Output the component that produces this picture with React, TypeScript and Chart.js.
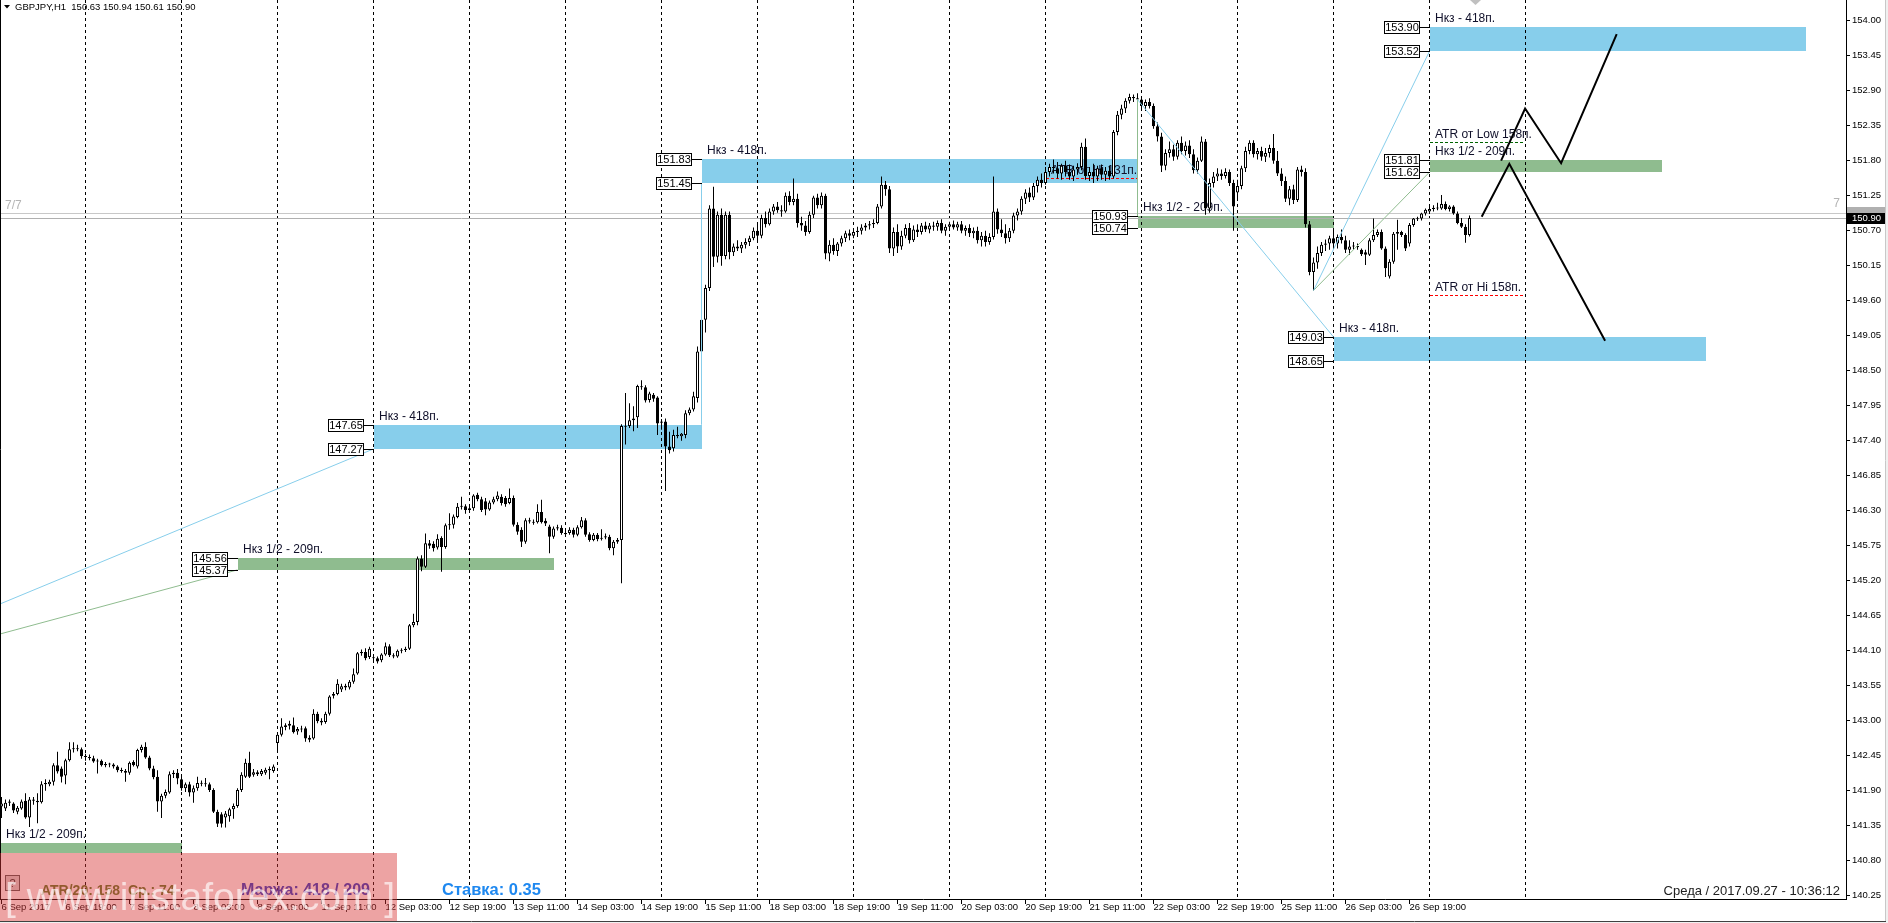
import React, { useEffect, useRef } from 'react';
import { Chart, registerables } from 'chart.js';

Chart.register(...registerables);

const FONT = "'Liberation Sans', Arial, Helvetica, sans-serif";
const BLUE = '#87CEEB';
const GREEN = '#8FBC8F';
const TEXT = '#10102a';

// ---- GBPJPY H1 candles, [open, high, low, close], one array per trading day ----
const sep06 = [
  [141.65,141.80,141.47,141.70],[141.62,141.76,141.58,141.71],[141.71,141.76,141.66,141.73],[141.70,141.72,141.55,141.59],
  [141.57,141.66,141.53,141.63],[141.62,141.76,141.60,141.73],[141.74,141.86,141.46,141.48],[141.48,141.80,141.33,141.76],
  [141.76,141.80,141.68,141.74],[141.74,141.86,141.39,141.72],[141.72,142.05,141.70,142.00],[142.00,142.08,141.90,142.02],
  [142.00,142.07,141.97,142.04],[142.04,142.33,141.98,142.30],[142.30,142.51,142.17,142.20],[142.25,142.28,142.03,142.12],
  [142.14,142.40,142.00,142.38],[142.38,142.66,142.36,142.55],[142.55,142.66,142.50,142.56],[142.56,142.62,142.52,142.55],
  [142.55,142.58,142.40,142.44],
];
const sep07 = [
  [142.44,142.48,142.37,142.43],[142.43,142.47,142.38,142.41],[142.41,142.45,142.34,142.36],[142.36,142.40,142.17,142.37],
  [142.37,142.39,142.28,142.30],[142.30,142.35,142.27,142.32],[142.32,142.34,142.27,142.31],[142.31,142.33,142.25,142.28],
  [142.28,142.30,142.19,142.22],[142.22,142.26,142.18,142.21],[142.21,142.24,142.04,142.18],[142.18,142.36,142.15,142.34],
  [142.35,142.38,142.28,142.30],[142.28,142.56,142.25,142.54],[142.54,142.62,142.50,142.59],[142.59,142.66,142.40,142.42],
  [142.42,142.45,142.22,142.25],[142.25,142.29,142.08,142.11],[142.12,142.22,141.57,141.73],[141.73,141.85,141.47,141.82],
  [141.82,141.92,141.78,141.88],[141.87,142.20,141.85,142.16],[142.16,142.22,142.10,142.18],[142.18,142.24,142.00,142.09],
];
const sep08 = [
  [142.08,142.12,141.90,141.94],[141.94,142.03,141.88,142.00],[142.00,142.04,141.81,141.87],[141.87,141.98,141.71,141.94],
  [141.94,142.12,141.90,142.02],[142.02,142.06,141.97,142.01],[142.01,142.10,141.96,142.00],[142.00,142.03,141.88,141.91],
  [141.91,141.94,141.55,141.57],[141.57,141.60,141.33,141.38],[141.53,141.56,141.32,141.38],[141.48,141.58,141.32,141.54],
  [141.50,141.63,141.41,141.61],[141.61,141.70,141.46,141.66],[141.66,141.94,141.63,141.91],[141.91,142.19,141.88,142.15],
  [142.12,142.40,142.10,142.34],[142.34,142.51,142.10,142.12],[142.15,142.24,142.12,142.19],[142.19,142.22,142.13,142.16],
  [142.16,142.24,142.13,142.21],[142.18,142.26,142.15,142.23],[142.22,142.28,142.08,142.24],[142.21,142.31,142.18,142.28],
];
const sep11 = [
  [142.65,142.80,142.53,142.78],[142.78,143.04,142.75,142.91],[142.90,142.96,142.85,142.93],[142.92,143.00,142.86,142.95],
  [142.93,143.05,142.80,142.82],[142.83,142.90,142.78,142.87],[142.87,142.92,142.82,142.86],[142.88,142.91,142.67,142.72],
  [142.73,142.77,142.66,142.70],[142.72,143.18,142.70,143.11],[143.11,143.14,142.96,142.99],[143.00,143.04,142.93,142.97],
  [142.98,143.14,142.95,143.11],[143.11,143.40,143.08,143.38],[143.39,143.45,143.35,143.42],[143.42,143.65,143.40,143.58],
  [143.49,143.58,143.45,143.54],[143.55,143.58,143.48,143.52],[143.52,143.64,143.49,143.61],[143.61,143.82,143.58,143.73],
  [143.74,144.08,143.72,144.06],[144.06,144.12,144.02,144.08],[144.08,144.14,143.95,143.98],[144.00,144.16,143.97,144.13],
];
const sep12 = [
  [143.99,144.03,143.95,143.98],[143.98,144.01,143.90,143.93],[143.95,144.06,143.92,144.04],[144.04,144.23,144.02,144.17],
  [144.17,144.20,144.00,144.03],[144.03,144.06,143.98,144.01],[144.01,144.12,143.99,144.10],[144.10,144.14,144.06,144.11],
  [144.11,144.16,144.08,144.13],[144.13,144.52,144.11,144.50],[144.50,144.68,144.47,144.55],[144.55,145.58,144.50,145.55],
  [145.55,145.60,145.35,145.42],[145.42,145.94,145.40,145.79],[145.79,145.84,145.70,145.75],[145.78,145.82,145.66,145.71],
  [145.72,145.93,145.69,145.86],[145.87,145.90,145.34,145.73],[145.73,146.10,145.70,146.07],[146.07,146.26,146.00,146.08],
  [146.08,146.24,146.02,146.21],[146.20,146.42,146.18,146.36],[146.36,146.52,146.32,146.37],[146.37,146.40,146.25,146.31],
];
const sep13 = [
  [146.31,146.37,146.27,146.34],[146.34,146.56,146.30,146.54],[146.55,146.58,146.45,146.48],[146.48,146.52,146.28,146.31],
  [146.45,146.50,146.23,146.32],[146.32,146.46,146.30,146.43],[146.43,146.52,146.40,146.48],[146.48,146.60,146.45,146.54],
  [146.52,146.56,146.38,146.42],[146.50,146.53,146.36,146.40],[146.42,146.65,146.40,146.50],[146.50,146.54,146.05,146.08],
  [146.08,146.12,145.92,145.97],[146.00,146.04,145.73,145.81],[145.81,146.18,145.78,146.15],[146.15,146.19,146.10,146.13],
  [146.12,146.16,146.08,146.11],[146.12,146.40,146.10,146.28],[146.28,146.47,146.10,146.12],[146.14,146.18,146.06,146.10],
  [146.05,146.08,145.63,145.89],[145.89,146.05,145.86,146.02],[146.02,146.08,145.99,146.04],[146.03,146.07,145.92,145.95],
];
const sep14 = [
  [145.95,145.99,145.90,145.93],[145.95,146.04,145.92,146.00],[146.00,146.03,145.88,145.92],[145.92,146.07,145.90,146.04],
  [146.04,146.20,146.02,146.15],[146.15,146.18,145.89,145.92],[145.93,145.96,145.81,145.84],[145.84,145.95,145.82,145.92],
  [145.92,145.95,145.82,145.85],[145.86,146.01,145.83,145.87],[145.88,145.94,145.85,145.90],[145.89,145.92,145.68,145.71],
  [145.71,145.84,145.60,145.81],[145.81,145.87,145.78,145.84],[145.84,147.66,145.16,147.63],[147.63,148.15,147.34,147.62],
  [147.63,147.99,147.60,147.72],[147.72,147.94,147.55,147.75],[147.77,148.28,147.60,148.26],[148.25,148.35,148.20,148.24],
  [148.24,148.27,148.00,148.03],[148.04,148.17,148.00,148.14],[148.12,148.15,148.01,148.06],[148.08,148.10,147.49,147.67],
];
const sep15 = [
  [147.68,147.74,147.57,147.70],[147.70,147.75,146.61,147.31],[147.31,147.54,147.20,147.25],[147.28,147.57,147.23,147.49],
  [147.49,147.62,147.44,147.47],[147.47,147.52,147.40,147.51],[147.49,147.88,147.44,147.83],[147.83,147.92,147.80,147.89],
  [147.89,148.17,147.86,148.10],[148.07,148.88,148.00,148.80],[148.80,149.45,148.70,149.30],[149.30,149.85,149.10,149.80],
  [149.80,151.10,149.75,151.05],[151.05,151.39,150.13,150.29],[150.29,151.00,150.20,150.95],[150.95,151.05,150.15,150.30],
  [150.30,151.00,150.25,150.95],[150.95,151.00,150.25,150.36],[150.36,150.50,150.30,150.45],[150.45,150.55,150.38,150.42],
  [150.42,150.52,150.35,150.48],[150.48,150.58,150.42,150.52],[150.52,150.62,150.46,150.58],[150.58,150.75,150.55,150.70],
];
const sep18 = [
  [150.70,150.80,150.55,150.62],[150.62,150.95,150.58,150.90],[150.90,151.00,150.75,150.80],[150.80,151.05,150.78,151.00],
  [151.00,151.12,150.95,151.08],[151.08,151.15,150.98,151.02],[151.02,151.10,150.92,151.00],[151.00,151.30,150.98,151.25],
  [151.25,151.32,151.10,151.15],[151.15,151.52,151.10,151.20],[151.20,151.28,150.75,150.82],[150.82,150.92,150.70,150.78],
  [150.78,150.85,150.62,150.68],[150.68,151.00,150.65,150.95],[150.95,151.25,150.90,151.22],[151.22,151.28,151.05,151.10],
  [151.10,151.30,151.05,151.25],[151.25,151.28,150.25,150.34],[150.34,150.55,150.22,150.48],[150.48,150.58,150.32,150.38],
  [150.38,150.52,150.30,150.50],[150.50,150.62,150.45,150.58],[150.58,150.70,150.52,150.66],[150.66,150.72,150.55,150.62],
];
const sep19 = [
  [150.62,150.72,150.58,150.68],[150.68,150.76,150.60,150.70],[150.70,150.80,150.64,150.75],[150.75,150.82,150.70,150.78],
  [150.78,150.85,150.72,150.80],[150.80,150.88,150.74,150.82],[150.82,151.12,150.80,151.08],[151.08,151.55,151.05,151.42],
  [151.42,151.48,151.25,151.35],[151.35,151.40,150.35,150.42],[150.42,150.75,150.30,150.68],[150.68,150.80,150.35,150.45],
  [150.45,150.70,150.40,150.62],[150.62,150.80,150.58,150.74],[150.74,150.82,150.50,150.55],[150.55,150.78,150.52,150.72],
  [150.72,150.80,150.60,150.68],[150.68,150.82,150.64,150.78],[150.78,150.84,150.68,150.72],[150.72,150.82,150.66,150.78],
  [150.78,150.84,150.70,150.76],[150.76,150.86,150.70,150.82],[150.82,150.88,150.66,150.70],[150.70,150.80,150.62,150.76],
];
const sep20 = [
  [150.76,150.84,150.70,150.80],[150.80,150.86,150.72,150.75],[150.75,150.84,150.70,150.80],[150.80,150.85,150.66,150.70],
  [150.70,150.78,150.62,150.74],[150.74,150.80,150.60,150.66],[150.66,150.75,150.58,150.70],[150.70,150.76,150.50,150.55],
  [150.55,150.68,150.45,150.62],[150.62,150.70,150.45,150.52],[150.52,150.66,150.48,150.60],[150.60,151.55,150.56,151.00],
  [151.00,151.05,150.65,150.72],[150.72,150.88,150.60,150.66],[150.66,150.80,150.50,150.58],[150.58,150.74,150.52,150.70],
  [150.70,150.98,150.66,150.94],[150.94,151.05,150.86,151.00],[151.00,151.24,150.95,151.20],[151.20,151.35,151.12,151.30],
  [151.30,151.38,151.15,151.22],[151.22,151.45,151.18,151.40],[151.40,151.55,151.30,151.50],[151.50,151.60,151.38,151.45],
];
const sep21 = [
  [151.45,151.70,151.42,151.62],[151.62,151.75,151.55,151.70],[151.70,151.82,151.60,151.68],[151.68,151.78,151.52,151.60],
  [151.60,151.75,151.50,151.72],[151.72,151.80,151.55,151.62],[151.62,151.74,151.50,151.55],[151.55,151.72,151.48,151.66],
  [151.66,151.76,151.58,151.70],[151.70,152.08,151.65,152.02],[152.02,152.15,151.50,151.56],[151.56,151.70,151.48,151.62],
  [151.62,151.75,151.45,151.55],[151.55,151.72,151.48,151.68],[151.68,151.74,151.50,151.58],[151.58,151.70,151.48,151.64],
  [151.64,151.72,151.50,151.55],[151.55,152.28,151.52,152.25],[152.25,152.58,152.20,152.52],[152.52,152.68,152.45,152.62],
  [152.62,152.78,152.55,152.74],[152.74,152.85,152.70,152.80],[152.80,152.84,152.72,152.78],[152.78,152.86,152.70,152.76],
];
const sep22 = [
  [152.76,152.80,152.60,152.66],[152.66,152.76,152.58,152.72],[152.72,152.78,152.62,152.66],[152.66,152.70,152.30,152.34],
  [152.34,152.40,152.10,152.18],[152.18,152.24,151.62,151.72],[151.72,151.98,151.65,151.92],[151.92,152.10,151.85,151.98],
  [151.98,152.05,151.80,151.86],[151.86,152.12,151.82,152.08],[152.08,152.18,151.90,151.95],[151.95,152.10,151.88,152.04],
  [152.04,152.12,151.84,151.90],[151.90,151.98,151.60,151.65],[151.65,151.85,151.60,151.80],[151.80,152.18,151.78,152.10],
  [152.10,152.14,150.95,151.05],[151.05,151.52,150.98,151.45],[151.45,151.62,151.38,151.55],[151.55,151.68,151.48,151.60],
  [151.60,151.66,151.50,151.56],[151.56,151.68,151.52,151.62],[151.62,151.66,151.40,151.45],[151.45,151.50,150.70,151.08],
];
const sep25 = [
  [151.30,151.50,151.20,151.40],[151.40,151.72,151.35,151.68],[151.68,152.02,151.62,151.95],[151.95,152.12,151.90,152.08],
  [152.08,152.12,151.85,151.90],[151.90,152.00,151.82,151.95],[151.95,152.02,151.80,151.86],[151.86,152.00,151.78,151.92],
  [151.92,152.05,151.85,152.00],[152.00,152.22,151.75,151.80],[151.80,151.95,151.56,151.60],[151.60,151.68,151.40,151.48],
  [151.48,151.55,151.15,151.20],[151.20,151.40,151.10,151.35],[151.35,151.42,151.12,151.18],[151.18,151.70,151.15,151.66],
  [151.66,151.72,151.55,151.62],[151.62,151.68,150.75,150.80],[150.80,150.85,150.00,150.05],[150.05,150.28,149.76,150.20],
  [150.20,150.45,150.10,150.35],[150.35,150.52,150.30,150.48],[150.48,150.56,150.38,150.50],[150.50,150.62,150.40,150.58],
];
const sep26 = [
  [150.58,150.70,150.45,150.50],[150.50,150.64,150.42,150.60],[150.60,150.72,150.50,150.55],[150.55,150.62,150.35,150.40],
  [150.40,150.55,150.32,150.45],[150.45,150.52,150.40,150.46],[150.46,150.50,150.40,150.44],[150.40,150.42,150.30,150.33],
  [150.36,150.40,150.16,150.32],[150.32,150.58,150.30,150.55],[150.55,150.89,150.52,150.63],[150.63,150.72,150.60,150.68],
  [150.68,150.72,150.40,150.42],[150.42,150.45,149.97,150.11],[149.98,150.25,149.95,150.21],[150.21,150.68,150.18,150.65],
  [150.65,150.87,150.40,150.68],[150.68,150.70,150.60,150.63],[150.63,150.66,150.38,150.42],[150.50,150.82,150.45,150.79],
  [150.79,150.90,150.76,150.89],[150.89,150.92,150.85,150.88],[150.89,150.98,150.86,150.97],[150.97,151.05,150.94,151.03],
];
const sep27 = [
  [151.00,151.08,150.96,151.04],[151.04,151.10,151.00,151.06],[151.06,151.14,151.02,151.05],[151.05,151.26,151.03,151.12],
  [151.12,151.16,151.02,151.04],[151.04,151.10,151.00,151.08],[151.08,151.10,150.95,150.97],[150.97,151.00,150.80,150.82],
  [150.82,150.90,150.74,150.76],[150.76,150.80,150.51,150.63],[150.63,150.94,150.61,150.90],
];

const candles = [...sep06, ...sep07, ...sep08, ...sep11, ...sep12, ...sep13, ...sep14, ...sep15,
  ...sep18, ...sep19, ...sep20, ...sep21, ...sep22, ...sep25, ...sep26, ...sep27];
const opens = candles.map(c => c[0]);
const highs = candles.map(c => c[1]);
const lows = candles.map(c => c[2]);
const closes = candles.map(c => c[3]);

// ---- axes ----
const yTicks = [140.25, 140.80, 141.35, 141.90, 142.45, 143.00, 143.55, 144.10, 144.65, 145.20, 145.75, 146.30,
  146.85, 147.40, 147.95, 148.50, 149.05, 149.60, 150.15, 150.70, 151.25, 151.80, 152.35, 152.90, 153.45, 154.00];
const xTickIdx = [0, 16, 32, 48, 64, 80, 96, 112, 128, 144, 160, 176, 192, 208, 224, 240, 256, 272, 288, 304, 320, 336, 352];
const xTickLabels = ['6 Sep 2017', '6 Sep 19:00', '7 Sep 11:00', '8 Sep 03:00', '8 Sep 19:00', '11 Sep 11:00',
  '12 Sep 03:00', '12 Sep 19:00', '13 Sep 11:00', '14 Sep 03:00', '14 Sep 19:00', '15 Sep 11:00', '18 Sep 03:00',
  '18 Sep 19:00', '19 Sep 11:00', '20 Sep 03:00', '20 Sep 19:00', '21 Sep 11:00', '22 Sep 03:00', '22 Sep 19:00',
  '25 Sep 11:00', '26 Sep 03:00', '26 Sep 19:00'];
const separatorIdx = [21, 45, 69, 93, 117, 141, 165, 189, 213, 237, 261, 285, 309, 333, 357, 381];
const X_MIN = -0.375, X_MAX = 461.125;
const Y_MIN = 140.198, Y_MAX = 154.3246;

// ---- zones (rectangles) ----
const zoneStart = [93, 59, 175, 284, 333, 357, 357, -0.1];
const zoneEnd = [175, 138, 284, 333, 426, 451, 415, 45];
const zoneLow = [147.27, 145.37, 151.45, 150.74, 148.65, 153.52, 151.62, 140.92];
const zoneHigh = [147.65, 145.56, 151.83, 150.93, 149.03, 153.90, 151.81, 141.08];
const zoneIsFull = [true, false, true, false, true, true, false, false];
const zoneText = ['Нкз - 418п.', 'Нкз 1/2 - 209п.', 'Нкз - 418п.', 'Нкз 1/2 - 209п.', 'Нкз - 418п.', 'Нкз - 418п.', 'Нкз 1/2 - 209п.', 'Нкз 1/2 - 209п.'];
const zoneBoxes = [true, true, true, true, true, true, true, false];

// ---- fibo helper lines ----
const fibFromIdx = [-0.375, -0.375, 175, 284, 284, 328, 328];
const fibFromPrice = [144.834, 144.362, 147.65, 152.76, 152.76, 149.76, 149.76];
const fibToIdx = [93, 59, 175, 333, 284, 357, 357];
const fibToPrice = [147.27, 145.37, 151.45, 149.03, 150.93, 153.52, 151.62];
const fibIsBlue = [true, false, true, true, false, true, false];

// ---- ATR levels ----
const atrStart = [261, 357, 357];
const atrEnd = [284, 380.3, 380.3];
const atrPrice = [151.52, 152.10, 149.69];
const atrColor = ['#ff0000', '#006400', '#ff0000'];
const atrText = ['ATR от Hi 131п.', 'ATR от Low 158п.', 'ATR от Hi 158п.'];

// ---- projected zig-zags ----
const zzAIdx = [370.05, 376.95, 400.9];
const zzAPrice = [150.92, 151.75, 148.97];
const zzBIdx = [374.9, 380.9, 389.9, 403.8];
const zzBPrice = [151.80, 152.62, 151.76, 153.79];

const bidPrice = 150.90;
const askPrice = 150.97;

const overlayPlugin = {
  id: 'mtOverlay',
  beforeDatasetsDraw(chart: any) {
    const { ctx, chartArea: a } = chart;
    const X = (v: number) => chart.scales.x.getPixelForValue(v);
    const Y = (v: number) => chart.scales.y.getPixelForValue(v);
    ctx.save();
    ctx.beginPath();
    ctx.rect(a.left, a.top, a.right - a.left, a.bottom - a.top);
    ctx.clip();
    zoneStart.forEach((s, k) => {
      const x0 = Math.round(X(s)), x1 = Math.round(X(zoneEnd[k]));
      const y0 = Math.round(Y(zoneHigh[k])), y1 = Math.round(Y(zoneLow[k]));
      ctx.fillStyle = zoneIsFull[k] ? BLUE : GREEN;
      ctx.fillRect(x0, y0, x1 - x0, y1 - y0);
    });
    ctx.strokeStyle = '#000';
    ctx.lineWidth = 1;
    ctx.setLineDash([3, 3]);
    separatorIdx.forEach(s => {
      const px = Math.floor(X(s)) + 0.5;
      ctx.beginPath();
      ctx.moveTo(px, a.top);
      ctx.lineTo(px, a.bottom);
      ctx.stroke();
    });
    ctx.setLineDash([3, 2]);
    atrStart.forEach((s, k) => {
      const py = Math.round(Y(atrPrice[k])) + 0.5;
      ctx.strokeStyle = atrColor[k];
      ctx.beginPath();
      ctx.moveTo(Math.round(X(s)), py);
      ctx.lineTo(Math.round(X(atrEnd[k])), py);
      ctx.stroke();
    });
    ctx.setLineDash([]);
    ctx.font = `12px ${FONT}`;
    ctx.fillStyle = TEXT;
    ctx.textAlign = 'left';
    ctx.textBaseline = 'alphabetic';
    zoneStart.forEach((s, k) => {
      ctx.fillText(zoneText[k], Math.round(X(s)) + 5, Math.round(Y(zoneHigh[k])) - 5);
    });
    atrStart.forEach((s, k) => {
      ctx.fillText(atrText[k], Math.round(X(s)) + 5, Math.round(Y(atrPrice[k])) - 4);
    });
    [askPrice, bidPrice].forEach((p, k) => {
      const py = Math.round(Y(p)) + 0.5;
      ctx.strokeStyle = k === 0 ? '#c8c8c8' : '#b0b0b0';
      ctx.beginPath();
      ctx.moveTo(a.left, py);
      ctx.lineTo(a.right, py);
      ctx.stroke();
    });
    ctx.fillStyle = '#b4b4b4';
    ctx.font = `12px ${FONT}`;
    ctx.fillText('7/7', 5, Math.round(Y(askPrice)) - 4);
    ctx.textAlign = 'right';
    ctx.fillText('7', a.right - 6, Math.round(Y(askPrice)) - 6);
    ctx.restore();
  },
  afterDatasetsDraw(chart: any) {
    const { ctx } = chart;
    const X = (v: number) => chart.scales.x.getPixelForValue(v);
    const Y = (v: number) => chart.scales.y.getPixelForValue(v);
    ctx.save();
    ctx.lineWidth = 1;
    ctx.strokeStyle = '#000';
    ctx.font = `11px ${FONT}`;
    ctx.textAlign = 'center';
    ctx.textBaseline = 'middle';
    zoneStart.forEach((s, k) => {
      if (!zoneBoxes[k]) return;
      const x0 = Math.round(X(s));
      [zoneHigh[k], zoneLow[k]].forEach(p => {
        const py = Math.round(Y(p)) + 0.5;
        const bx1 = x0 - 10, bx0 = bx1 - 36;
        ctx.beginPath();
        ctx.moveTo(bx1, py);
        ctx.lineTo(x0, py);
        ctx.stroke();
        ctx.fillStyle = '#fff';
        ctx.fillRect(bx0, py - 6, 36, 12);
        ctx.strokeRect(bx0 + 0.5, py - 6, 35, 12);
        ctx.fillStyle = '#000';
        ctx.fillText(p.toFixed(2), bx0 + 18, py + 0.5);
      });
    });
    ctx.restore();
  },
  afterDraw(chart: any) {
    const { ctx, chartArea: a } = chart;
    const Y = (v: number) => chart.scales.y.getPixelForValue(v);
    ctx.save();
    ctx.strokeStyle = '#000';
    ctx.lineWidth = 1;
    ctx.beginPath();
    ctx.moveTo(0.5, 0);
    ctx.lineTo(0.5, a.bottom);
    ctx.stroke();
    const ya = Math.round(Y(askPrice));
    ctx.fillStyle = '#b0b0b0';
    ctx.fillRect(a.right + 1, ya - 6, 38, 11);
    const yb = Math.round(Y(bidPrice));
    ctx.fillStyle = '#000';
    ctx.fillRect(a.right + 1, yb - 5, 38, 11);
    ctx.fillStyle = '#fff';
    ctx.font = `9.5px ${FONT}`;
    ctx.textAlign = 'left';
    ctx.textBaseline = 'middle';
    ctx.fillText(bidPrice.toFixed(2), a.right + 6, yb + 0.5);
    // header
    ctx.fillStyle = '#000';
    ctx.beginPath();
    ctx.moveTo(4, 5);
    ctx.lineTo(10, 5);
    ctx.lineTo(7, 8.5);
    ctx.closePath();
    ctx.fill();
    ctx.textBaseline = 'alphabetic';
    ctx.font = `9.5px ${FONT}`;
    ctx.fillText('GBPJPY,H1  150.63 150.94 150.61 150.90', 15, 10);
    ctx.fillStyle = '#c0c0c0';
    ctx.beginPath();
    ctx.moveTo(1470, 0);
    ctx.lineTo(1481, 0);
    ctx.lineTo(1475.5, 5);
    ctx.closePath();
    ctx.fill();
    // info panel
    ctx.fillStyle = '#d8d8d8';
    ctx.fillRect(5, 875, 15, 16);
    ctx.strokeStyle = '#555';
    ctx.strokeRect(5.5, 875.5, 14, 15);
    ctx.fillStyle = '#333';
    ctx.font = `11px ${FONT}`;
    ctx.textAlign = 'center';
    ctx.fillText('?', 12.5, 887);
    ctx.textAlign = 'left';
    ctx.font = `bold 14px ${FONT}`;
    ctx.fillStyle = '#5a7a2a';
    ctx.fillText('ATR/20: 158  Ср.: 74', 41, 895);
    ctx.font = `bold 16px ${FONT}`;
    ctx.fillStyle = '#2a3cc8';
    ctx.fillText('Маржа: 418 / 209', 241, 895);
    ctx.font = `bold 16.5px ${FONT}`;
    ctx.fillStyle = '#1e88f0';
    ctx.fillText('Ставка: 0.35', 442, 895);
    // watermark
    ctx.fillStyle = 'rgba(215, 50, 50, 0.45)';
    ctx.fillRect(0, 853, 397, 70);
    ctx.fillStyle = 'rgba(255, 255, 255, 0.65)';
    ctx.font = `39px ${FONT}`;
    ctx.fillText('[ www.instaforex.com ]', 5, 910);
    // date/time stamp
    ctx.fillStyle = '#202020';
    ctx.font = `13px ${FONT}`;
    ctx.textAlign = 'right';
    ctx.fillText('Среда / 2017.09.27 - 10:36:12', 1840, 895);
    // window frame
    ctx.fillStyle = '#f0f0f0';
    ctx.fillRect(0, 922, 1888, 1);
    ctx.fillRect(1886, 0, 2, 923);
    ctx.strokeStyle = '#404040';
    ctx.beginPath();
    ctx.moveTo(0, 921.5);
    ctx.lineTo(1886, 921.5);
    ctx.stroke();
    ctx.strokeStyle = '#c8c8c8';
    ctx.beginPath();
    ctx.moveTo(1885.5, 0);
    ctx.lineTo(1885.5, 921);
    ctx.stroke();
    ctx.restore();
  },
};

export default function App() {
  const ref = useRef<HTMLCanvasElement>(null);
  useEffect(() => {
    document.body.style.margin = '0';
    document.body.style.overflow = 'hidden';
    const canvas = ref.current;
    if (!canvas) return;
    const isBull = (i: number) => closes[i] > opens[i];
    const lineDs = (idx: number[], price: number[], color: string, width: number) => ({
      type: 'line' as const,
      data: idx.map((v, k) => ({ x: v, y: price[k] })),
      borderColor: color,
      borderWidth: width,
      pointRadius: 0,
      fill: false,
      tension: 0,
      order: -1,
    });
    const fibSets = fibFromIdx.map((f, k) =>
      lineDs([f, fibToIdx[k]], [fibFromPrice[k], fibToPrice[k]], fibIsBlue[k] ? BLUE : GREEN, 1));
    const chart = new Chart(canvas, {
      type: 'bar',
      data: {
        datasets: [
          {
            type: 'bar',
            data: candles.map((_, i) => ({ x: i, y: [opens[i], closes[i]] })) as any,
            backgroundColor: (c: any) => (isBull(c.dataIndex) ? '#ffffff' : '#000000'),
            borderColor: '#000',
            borderWidth: 1,
            borderSkipped: false,
            barThickness: 3,
            minBarLength: 1,
            grouped: false,
            inflateAmount: 0,
            order: 0,
          } as any,
          {
            type: 'bar',
            data: candles.map((_, i) => ({ x: i, y: [lows[i], highs[i]] })) as any,
            backgroundColor: '#000',
            borderWidth: 0,
            barThickness: 1,
            minBarLength: 1,
            grouped: false,
            inflateAmount: 0,
            order: 1,
          } as any,
          ...fibSets,
          lineDs(zzAIdx, zzAPrice, '#000', 2),
          lineDs(zzBIdx, zzBPrice, '#000', 2),
        ] as any,
      },
      options: {
        responsive: false,
        animation: false,
        devicePixelRatio: 1,
        layout: { padding: 0 },
        plugins: { legend: { display: false }, tooltip: { enabled: false } },
        scales: {
          x: {
            type: 'linear',
            position: 'bottom',
            min: X_MIN,
            max: X_MAX,
            offset: false,
            grid: { display: true, drawOnChartArea: false, drawTicks: true, tickLength: 5, color: '#000', offset: false },
            border: { display: true, color: '#000', width: 1 },
            ticks: {
              autoSkip: false,
              maxRotation: 0,
              minRotation: 0,
              align: 'start',
              padding: -2,
              color: '#000',
              font: { family: FONT, size: 9.5 },
              callback: (_v: any, i: number) => xTickLabels[i],
            },
            afterBuildTicks: (s: any) => { s.ticks = xTickIdx.map(v => ({ value: v })); },
            afterFit: (s: any) => {
              s.height = 24;
              s.paddingLeft = 0; s.paddingRight = 0; s.paddingTop = 0; s.paddingBottom = 0;
            },
          },
          y: {
            type: 'linear',
            position: 'right',
            min: Y_MIN,
            max: Y_MAX,
            beginAtZero: false,
            grid: { display: true, drawOnChartArea: false, drawTicks: true, tickLength: 4, color: '#000' },
            border: { display: true, color: '#000', width: 1 },
            ticks: {
              autoSkip: false,
              padding: 2,
              color: '#000',
              font: { family: FONT, size: 9.5 },
              callback: (v: any) => Number(v).toFixed(2),
            },
            afterBuildTicks: (s: any) => { s.ticks = yTicks.map(v => ({ value: v })); },
            afterFit: (s: any) => {
              s.width = 42;
              s.paddingLeft = 0; s.paddingRight = 0; s.paddingTop = 0; s.paddingBottom = 0;
            },
          },
        },
      } as any,
      plugins: [overlayPlugin],
    });
    return () => chart.destroy();
  }, []);
  return (
    <div style={{ width: 1888, height: 923, position: 'relative', background: '#fff' }}>
      <canvas ref={ref} width={1888} height={923} style={{ display: 'block', width: '1888px', height: '923px' }} />
    </div>
  );
}
